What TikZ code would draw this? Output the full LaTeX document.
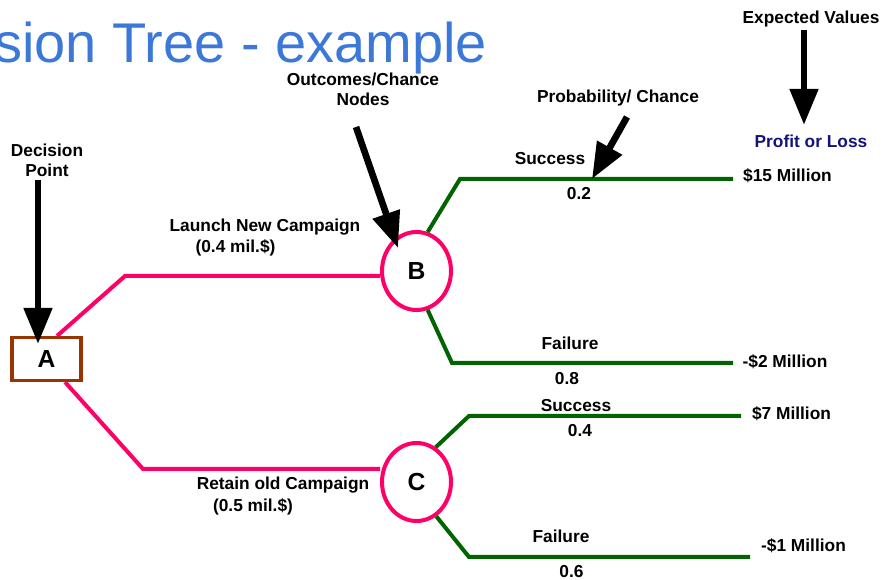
\documentclass[tikz,border=0pt]{standalone}
\usepackage{fontspec}
\setmainfont{Liberation Sans}
\usetikzlibrary{shapes.geometric,arrows.meta}
\definecolor{titleblue}{RGB}{60,120,216}
\definecolor{pinkline}{RGB}{255,0,102}
\definecolor{greenline}{RGB}{0,100,0}
\definecolor{brownbox}{RGB}{153,51,0}
\definecolor{navytext}{RGB}{20,20,120}
\begin{document}
\begin{tikzpicture}[x=0.75pt,y=-0.75pt,
  lbl/.style={font=\fontsize{13}{15}\selectfont\bfseries, anchor=base, inner sep=0pt},
  pinkl/.style={draw=pinkline, line width=3pt, line join=miter},
  greenl/.style={draw=greenline, line width=3pt},
  chance/.style={ellipse, draw=pinkline, line width=3pt, fill=white, inner sep=0pt,
    minimum width=51.75pt, minimum height=58.5pt, font=\fontsize{18.5}{20}\selectfont\bfseries},
  decision/.style={rectangle, draw=brownbox, line width=2.6pt, fill=white, inner sep=0pt,
    minimum width=52pt, minimum height=32pt, font=\fontsize{18.5}{20}\selectfont\bfseries},
  bigarrow/.style={line width=5pt, -{Triangle[width=20.5pt,length=27pt]}}
]
\useasboundingbox (0,0) rectangle (883,580);

% title
\node[anchor=base west, inner sep=0pt, text=titleblue, font=\fontsize{42}{46}\selectfont] (title) at (-6,63) {sion Tree - example};

% nodes
\node[decision] (A) at (46.5,359) {A};
\node[chance] (B) at (416.5,271) {B};
\node[chance] (C) at (416.5,482) {C};

% coordinates
\coordinate (ab) at (125,276);
\coordinate (ac) at (143,469);
\coordinate (b1) at (460,179);
\coordinate (b1e) at (733,179);
\coordinate (b2) at (452,363);
\coordinate (b2e) at (733,363);
\coordinate (c1) at (469,416);
\coordinate (c1e) at (741,416);
\coordinate (c2) at (469,557);
\coordinate (c2e) at (750,557);

% pink decision branches
\draw[pinkl] ([xshift=7.9pt]A.north) -- (ab) -- (ab -| B.west);
\draw[pinkl] ([xshift=13.9pt]A.south) -- (ac) -- (ac -| C.west);

% green chance branches
\draw[greenl] (B.74) -- (b1) -- (b1e);
\draw[greenl] (B.-74) -- (b2) -- (b2e);
\draw[greenl] (C.61) -- (c1) -- (c1e);
\draw[greenl] (C.-60) -- (c2) -- (c2e);

% labels
\node[lbl] (ev) at (811,24) {Expected Values};
\node[lbl, text=navytext] (pl) at (811,148) {Profit or Loss};
\node[lbl] (pc) at (618,103) {Probability/ Chance};
\node[lbl] (oc1) at (363,86) {Outcomes/Chance};
\node[lbl] (oc2) at (363,106) {Nodes};
\node[lbl] (dp1) at (47,157) {Decision};
\node[lbl] (dp2) at (47,177) {Point};
\node[lbl] (lnc) at (265,232) {Launch New Campaign};
\node[lbl] (lncc) at (235.5,253) {(0.4 mil.\$)};
\node[lbl] (roc) at (283,490) {Retain old Campaign};
\node[lbl] (rocc) at (253,512) {(0.5 mil.\$)};
\node[lbl] (s1) at (550,165) {Success};
\node[lbl] (p1) at (579,200) {0.2};
\node[lbl] (v1) at (787.5,182) {\$15 Million};
\node[lbl] (f1) at (570,350) {Failure};
\node[lbl] (p2) at (567,385) {0.8};
\node[lbl] (v2) at (785,368) {-\$2 Million};
\node[lbl] (s2) at (576,412) {Success};
\node[lbl] (p3) at (580,437) {0.4};
\node[lbl] (v3) at (791.5,420) {\$7 Million};
\node[lbl] (f2) at (561,543) {Failure};
\node[lbl] (p4) at (571.5,578) {0.6};
\node[lbl] (v4) at (803.5,552) {-\$1 Million};

% big black pointer arrows
\coordinate (dpS) at (38,180);
\coordinate (dpT) at (38,344);
\coordinate (evS) at (804,30);
\coordinate (evT) at (804,125);
\coordinate (ocS) at (356,127);
\coordinate (ocT) at (398,248);
\coordinate (pcS) at (627,117);
\coordinate (pcT) at (592,179);
\draw[bigarrow] (dpS) -- (dpT);
\draw[bigarrow] (evS) -- (evT);
\draw[bigarrow] (ocS) -- (ocT);
\draw[bigarrow] (pcS) -- (pcT);
\end{tikzpicture}
\end{document}
